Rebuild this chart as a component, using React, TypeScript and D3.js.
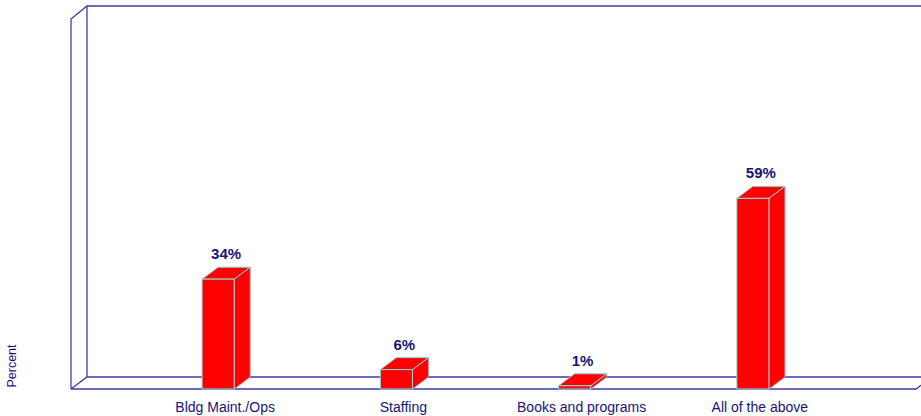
import * as d3 from "d3";

const categories = ["Bldg Maint./Ops", "Staffing", "Books and programs", "All of the above"];
const percents = [34, 6, 1, 59];
const valueLabels = ["34%", "6%", "1%", "59%"];

const width = 921;
const height = 416;
const depthX = 16;
const depthY = 12;
const floorY = 389;
const topY = 19;
const wallLeft = 71;
const wallRight = 932;
const axisColor = "#3d3da6";
const navy = "#14147a";

export default function App() {
    const x = d3.scaleBand<string>(categories, [129, 842]).paddingInner(0.82).paddingOuter(0.41);
    const y = d3.scaleLinear([0, 114.5], [floorY, topY]);

    const barW = x.bandwidth();

    return (
        <svg width={width} height={height} style={{ position: "absolute", left: 0, top: 0, background: "#fff" }}
             fontFamily="Arial, 'Liberation Sans', sans-serif">
            {/* walls */}
            <g fill="none" stroke={axisColor} strokeWidth={1.3}>
                <polyline points={`${wallLeft},${floorY} ${wallLeft},${topY} ${wallLeft + depthX},${topY - depthY - 1} ${wallRight},${topY - depthY - 1}`} />
                <line x1={wallLeft + depthX} y1={topY - depthY - 1} x2={wallLeft + depthX} y2={floorY - depthY} />
                <polyline points={`${wallLeft},${floorY} ${wallLeft + depthX},${floorY - depthY} ${wallRight},${floorY - depthY}`} />
                <polyline points={`${wallLeft},${floorY} ${wallRight - depthX},${floorY} ${wallRight},${floorY - depthY}`} />
            </g>

            {/* bars */}
            {categories.map((c, i) => {
                const x0 = x(c)!;
                const x1 = x0 + barW;
                const yt = y(percents[i]);
                const yb = y(0);
                return (
                    <g key={c} fill="#ff0000" stroke="#86dede" strokeWidth={1}>
                        <polygon points={`${x1},${yt} ${x1 + depthX},${yt - depthY} ${x1 + depthX},${yb - depthY} ${x1},${yb}`} stroke="#e88a8a" />
                        <polygon points={`${x0},${yt} ${x0 + depthX},${yt - depthY} ${x1 + depthX},${yt - depthY} ${x1},${yt}`} />
                        <rect x={x0} y={yt} width={barW} height={yb - yt} />
                        <text x={x0 + barW / 2 + depthX / 2} y={yt - depthY - 8} textAnchor="middle"
                              fill={navy} stroke="none" fontWeight="bold" fontSize={15}>
                            {valueLabels[i]}
                        </text>
                    </g>
                );
            })}

            {/* category labels */}
            {categories.map(c => (
                <text key={c} x={x(c)! + barW / 2 + depthX / 2 - 1} y={412} textAnchor="middle" fill={navy} fontSize={14}>
                    {c}
                </text>
            ))}

            <text transform="rotate(-90)" x={-366} y={16} textAnchor="middle" fill={navy} fontSize={12.5}>
                Percent
            </text>
        </svg>
    );
}
